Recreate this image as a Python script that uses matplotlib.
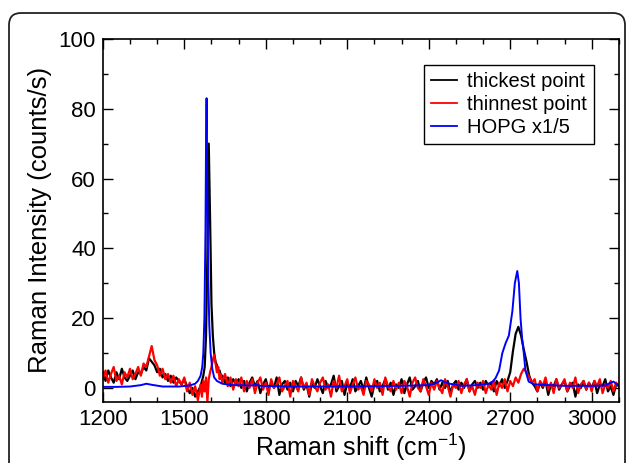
import matplotlib
matplotlib.use("Agg")
import matplotlib.pyplot as plt
from matplotlib.patches import FancyBboxPatch
from matplotlib.transforms import IdentityTransform

plt.rcParams['font.family'] = ['Liberation Sans', 'DejaVu Sans']
plt.rcParams['mathtext.default'] = 'regular'

# x grid of the two measured spectra (finer around the G peak)
noisy_x = list(range(1200, 1560, 10)) + list(range(1560, 1640, 5)) + list(range(1640, 3101, 10))

# thickest point (black)
thick_y = [
    4.5, 2.0, 5.0, 3.0, 1.5, 4.5, 2.5, 5.5, 3.0, 2.0,      # 1200
    3.5, 5.0, 2.5, 4.5, 4.0, 6.0, 5.0, 8.5, 7.5, 6.5,      # 1300
    4.5, 5.5, 3.0, 4.0, 2.0, 3.5, 1.5, 3.0, 2.0, 1.0,      # 1400
    2.5, 0.5, -1.5, 0.0, -2.5, -1.0,                       # 1500
    0.5, 2.0, 3.5, 6.0, 15.0, 38.0, 70.0, 48.0,            # 1560 (step 5)
    24.0, 15.0, 10.0, 7.5, 6.5, 4.5, 5.0, 3.0,             # 1600
    3.5, 1.5, 3.0, 0.5, 2.5, 1.0,                          # 1640
    2.5, 0.0, 2.0, -1.0, 1.5, 3.0, 0.5, 2.0, -1.5, 1.0,    # 1700
    2.5, -0.5, 1.5, 0.0, 3.0, -2.0, 1.0, 2.0, -0.5, 1.5,   # 1800
    -1.0, 2.0, 0.5, 3.0, -0.5, 1.0, -2.5, 1.5, 0.0, 2.5,   # 1900
    0.5, -1.5, 2.0, 0.0, 1.0, 3.5, -1.0, 0.5, 2.0, -2.0,   # 2000
    1.5, 0.0, 2.5, -1.0, 0.5, 2.0, -0.5, 3.0, 0.0, -2.5,   # 2100
    1.0, 2.0, -1.0, 0.5, 2.5, -0.5, 1.5, -2.0, 1.0, 0.0,   # 2200
    2.5, -1.5, 1.0, 3.0, -0.5, 0.5, 2.0, -1.0, 1.5, 3.0,   # 2300
    0.0, 2.0, 1.0, 2.5, -0.5, 1.5, 0.0, 2.0, -1.5, 1.0,    # 2400
    2.0, -0.5, 1.5, 0.0, 2.5, -1.0, 1.0, 2.0, 0.0, 1.5,    # 2500
    -0.5, 2.0, 0.5, 1.5, -1.0, 2.0, 0.5, 2.5, 0.0, 2.0,    # 2600
    4.5, 10.5, 15.5, 17.5, 15.0, 11.0, 7.5, 3.5, 1.5, 0.5, # 2700
    -1.0, 1.5, 0.0, 2.0, -2.0, 1.0, 0.5, 2.5, -0.5, 1.0,   # 2800
    2.0, -1.0, 0.5, 1.5, -2.5, 1.0, 0.0, 2.0, -0.5, 1.5,   # 2900
    0.0, 2.0, -1.5, 1.0, 0.5, 2.5, -1.0, 0.5, -2.0, 1.0,   # 3000
    0.5,                                                   # 3100
]

# thinnest point (red)
thin_y = [
    2.5, 5.0, 1.5, 4.0, 6.0, 2.0, 3.5, 1.0, 4.5, 3.0,      # 1200
    5.5, 2.5, 4.0, 6.0, 3.5, 7.0, 6.0, 9.0, 12.0, 8.0,     # 1300
    6.5, 3.5, 5.5, 2.5, 4.0, 1.5, 3.5, 0.5, 2.5, 1.0,      # 1400
    3.0, -1.0, 1.5, -2.0, 0.5, -3.5,                       # 1500
    1.0, -2.5, 2.0, -1.0, 3.0, -4.0, 2.5, 4.5,             # 1560 (step 5)
    6.0, 8.0, 9.5, 7.0, 4.5, 6.0, 2.5, 4.0,                # 1600
    1.5, 4.0, 0.5, 3.0, -0.5, 2.5,                         # 1640
    0.5, 3.0, -1.0, 2.0, 0.0, 2.5, -1.5, 1.5, 3.0, -0.5,   # 1700
    1.5, -2.0, 2.5, 0.0, 1.0, 3.0, -1.0, 0.5, 2.0, -2.5,   # 1800
    2.0, 0.5, -1.0, 3.0, 0.0, 1.5, -2.0, 2.5, 0.5, -1.0,   # 1900
    1.5, 3.0, -0.5, 1.0, -2.5, 2.0, 0.0, 3.5, -1.0, 0.5,   # 2000
    2.5, -1.5, 1.0, 3.0, -0.5, 0.5, -2.0, 2.0, 1.0, -1.0,  # 2100
    2.5, 0.0, 1.5, -2.0, 3.0, 0.5, -1.0, 2.0, -0.5, 1.5,   # 2200
    -1.5, 2.0, 0.5, -2.5, 1.5, 3.0, 0.0, -1.0, 2.5, 0.5,   # 2300
    -2.0, 1.5, -0.5, 2.0, 0.0, -1.5, 2.5, 0.5, -2.5, 1.0,  # 2400
    0.0, 2.0, -1.5, 1.0, 2.5, -1.0, 0.5, -2.0, 1.5, 0.0,   # 2500
    2.0, -1.5, 1.0, -0.5, 2.0, -2.0, 1.5, 0.0, 2.5, -1.0,  # 2600
    2.0, 0.5, 3.0, 1.5, 4.0, 5.5, 4.5, 3.0, 1.5, 2.5,      # 2700
    -1.0, 2.0, 0.5, 3.0, -0.5, 1.5, -1.5, 2.5, 0.0, 1.0,   # 2800
    2.5, -1.0, 1.5, 0.0, 3.0, -1.5, 1.0, 2.0, -0.5, 1.5,   # 2900
    -1.0, 2.0, 0.5, 2.5, -1.5, 1.0, 0.0, 2.0, -1.0, 1.5,   # 3000
    0.5,                                                   # 3100
]

# HOPG reference, scaled x1/5 (blue)
hopg_x = [1200, 1250, 1300, 1340, 1360, 1380, 1420, 1480, 1520, 1540,
          1550, 1560, 1566, 1570, 1574, 1578, 1580, 1582, 1585, 1588,
          1592, 1597, 1603, 1610, 1620, 1640, 1680, 1750, 1760, 1780,
          1900, 2100, 2300, 2400, 2430, 2445, 2470, 2520, 2580, 2620,
          2635, 2646, 2659, 2671, 2683, 2695, 2708, 2717, 2726, 2732,
          2738, 2744, 2750, 2756, 2768, 2790, 2900, 3000, 3050, 3070,
          3080, 3090, 3100]
hopg_y = [0.3, 0.3, 0.4, 0.8, 1.2, 0.9, 0.4, 0.4, 0.7, 1.2,
          2.0, 3.5, 6.0, 10.0, 20.0, 45.0, 70.0, 83.0, 55.0, 32.0,
          18.0, 10.0, 5.5, 3.0, 2.0, 1.2, 0.8, 0.7, 1.0, 0.6,
          0.4, 0.4, 0.6, 0.8, 1.5, 2.2, 1.3, 0.6, 0.8, 1.2,
          1.8, 2.8, 5.0, 10.0, 12.8, 15.0, 22.0, 30.0, 33.5, 30.0,
          20.0, 14.0, 10.0, 5.0, 1.8, 1.0, 0.6, 0.6, 0.7, 1.5,
          1.8, 1.2, 0.8]

fig = plt.figure(figsize=(6.27, 4.63), dpi=100)
ax = fig.add_axes([0.164, 0.132, 0.823, 0.784])

ax.plot(noisy_x, thick_y, color='black', lw=1.6, label='thickest point')
ax.plot(noisy_x, thin_y, color='red', lw=1.6, label='thinnest point')
ax.plot(hopg_x, hopg_y, color='blue', lw=1.4, label='HOPG x1/5')

ax.set_xlim(1200, 3100)
ax.set_ylim(-4, 100)
ax.set_xticks(range(1200, 3001, 300))
ax.set_xticks(range(1200, 3101, 100), minor=True)
ax.set_yticks(range(0, 101, 20))
ax.set_yticks(range(0, 101, 10), minor=True)
ax.tick_params(which='both', direction='in', top=True, right=True, width=1, labelsize=16)
ax.tick_params(which='major', length=7, pad=5)
ax.tick_params(which='minor', length=3.5)
for s in ax.spines.values():
    s.set_linewidth(1.2)

ax.set_xlabel('Raman shift (cm$^{-1}$)', fontsize=18, labelpad=1)
ax.set_ylabel('Raman Intensity (counts/s)', fontsize=18.5, labelpad=5)

leg = ax.legend(loc='upper right', bbox_to_anchor=(594 / 627, 1 - 65 / 463),
                bbox_transform=fig.transFigure, borderaxespad=0, fontsize=14.5,
                fancybox=False, edgecolor='black', framealpha=1,
                handlelength=1.3, handletextpad=0.5, labelspacing=0.2, borderpad=0.35)
leg.get_frame().set_linewidth(1.0)
for h in leg.get_lines():
    h.set_linewidth(1.3)

# rounded frame around the figure
frame = FancyBboxPatch((9, -20), 616, 470, boxstyle="round,pad=0,rounding_size=12",
                       transform=IdentityTransform(), fill=False, ec='#222222', lw=1.3)
fig.patches.append(frame)

fig.savefig('out.png', dpi=100)
